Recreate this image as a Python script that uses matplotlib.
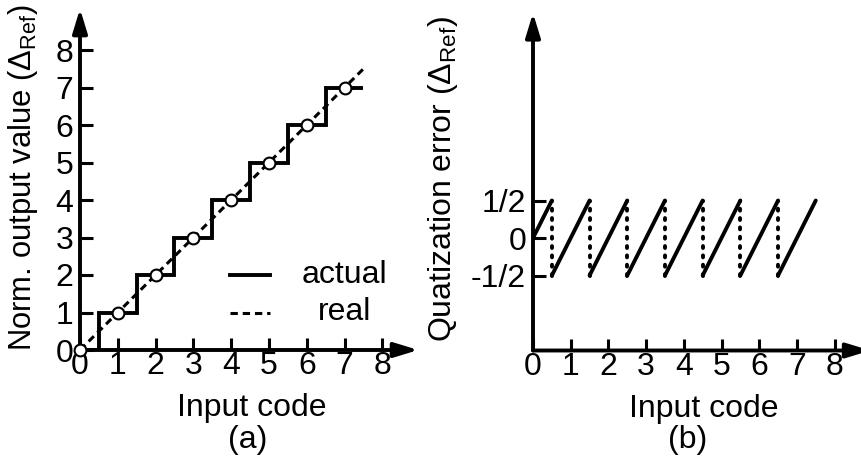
import numpy as np
import matplotlib.pyplot as plt

plt.rcParams['font.family'] = ['Liberation Sans', 'DejaVu Sans']
plt.rcParams['mathtext.fontset'] = 'custom'
plt.rcParams['mathtext.rm'] = 'Liberation Sans'
plt.rcParams['mathtext.it'] = 'Liberation Sans:italic'

# (a) transfer characteristic
codes = [0, 1, 2, 3, 4, 5, 6, 7]
step_edges = [0, 0.5, 1.5, 2.5, 3.5, 4.5, 5.5, 6.5, 7.5]
step_levels = [0, 1, 2, 3, 4, 5, 6, 7]
ideal_x = [0, 7.5]
ideal_y = [0, 7.5]

# (b) quantization error, one ramp per code
ramp_x0 = [0, 0.5, 1.5, 2.5, 3.5, 4.5, 5.5, 6.5]
ramp_y0 = [0, -0.5, -0.5, -0.5, -0.5, -0.5, -0.5, -0.5]
ramp_x1 = [0.5, 1.5, 2.5, 3.5, 4.5, 5.5, 6.5, 7.5]
ramp_y1 = [0.5, 0.5, 0.5, 0.5, 0.5, 0.5, 0.5, 0.5]
jump_x = [0.5, 1.5, 2.5, 3.5, 4.5, 5.5, 6.5]

xticks = [0, 1, 2, 3, 4, 5, 6, 7, 8]
yticks_a = [0, 1, 2, 3, 4, 5, 6, 7, 8]
yticks_b = [-0.5, 0, 0.5]
yticklabels_b = ['-1/2', '0', '1/2']

W, H = 862, 466
FS = 23
LW = 2.8

fig = plt.figure(figsize=(W / 100, H / 100), dpi=100)


def add_axes_px(x0, y0, ux, uy, xlim, ylim):
    # x0, y0: pixel position of the data origin (top-left image coords)
    left = x0 + xlim[0] * ux
    right = x0 + xlim[1] * ux
    bottom = y0 - ylim[0] * uy
    top = y0 - ylim[1] * uy
    ax = fig.add_axes([left / W, 1 - bottom / H, (right - left) / W, (bottom - top) / H])
    ax.set_xlim(*xlim)
    ax.set_ylim(*ylim)
    for s in ax.spines.values():
        s.set_visible(False)
    ax.tick_params(direction='in', length=9, width=2.2, labelsize=FS, pad=1)
    ax.tick_params(axis='y', pad=5)
    return ax


def draw_arrows(ax, xo, yo, xtip, ytip):
    style = '-|>,head_length=0.72,head_width=0.22'
    for tip in [(xtip, yo), (xo, ytip)]:
        ax.annotate('', xy=tip, xytext=(xo, yo),
                    arrowprops=dict(arrowstyle=style, lw=LW, color='k',
                                    mutation_scale=20, shrinkA=0, shrinkB=0),
                    annotation_clip=False)


ylab = 'Norm. output value ($\\mathit{\\Delta}_{\\mathrm{Ref}}$)'
ylab_b = 'Quatization error ($\\mathit{\\Delta}_{\\mathrm{Ref}}$)'
dash = (0, (2.4, 1.6))

# ---- panel (a)
ax1 = add_axes_px(80, 350, 37.8, 37.5, (0, 9.2), (0, 9.3))
draw_arrows(ax1, 0, 0, 8.95, 9.1)
ax1.stairs(step_levels, step_edges, color='k', lw=LW, baseline=None, zorder=3)
ax1.plot(ideal_x, ideal_y, color='k', lw=2.2, ls=dash, zorder=3)
ax1.plot(codes, codes, ls='none', marker='o', ms=8.5, mfc='white', mec='k',
         mew=1.5, zorder=4, clip_on=False)
ax1.set_xticks(xticks)
ax1.set_yticks(yticks_a)
ax1.set_xlabel('Input code', fontsize=FS)
ax1.xaxis.set_label_coords((252 - 80) / (9.2 * 37.8), -(408 - 350) / (9.3 * 37.5))
ax1.xaxis.label.set_va('center')
ax1.set_ylabel(ylab, fontsize=22.3)
ax1.yaxis.set_label_coords(-(80 - 23) / (9.2 * 37.8), (350 - 178) / (9.3 * 37.5))
ax1.yaxis.label.set_va('center')
fig.text(248 / W, 1 - 440 / H, '(a)', fontsize=FS, ha='center', va='center')

# legend drawn inside the data area
ax1.plot([3.97, 5.03], [2, 2], color='k', lw=LW)
ax1.plot([3.97, 5.03], [1, 1], color='k', lw=2.2, ls=dash)
ax1.text(7.0, 2, 'actual', fontsize=FS, ha='center', va='center')
ax1.text(7.0, 1, 'real', fontsize=FS, ha='center', va='center')

# ---- panel (b)
ax2 = add_axes_px(533, 238, 37.7, 75, (0, 8.73), (-1.5, 3.1))
draw_arrows(ax2, 0, -1.5, 8.95, 3.0)
for xa, ya, xb, yb in zip(ramp_x0, ramp_y0, ramp_x1, ramp_y1):
    ax2.plot([xa, xb], [ya, yb], color='k', lw=LW, solid_capstyle='round', zorder=3)
ax2.vlines(jump_x, -0.5, 0.5, color='k', lw=2.8, linestyles=[(0, (0.5, 1.9))],
           capstyle='round', zorder=3)
ax2.set_xticks(xticks)
ax2.set_yticks(yticks_b)
ax2.set_yticklabels(yticklabels_b)
ax2.set_xlabel('Input code', fontsize=FS)
ax2.xaxis.set_label_coords((704 - 533) / (8.73 * 37.7), -(408 - 350) / (4.6 * 75))
ax2.xaxis.label.set_va('center')
ax2.set_ylabel(ylab_b, fontsize=FS)
ax2.yaxis.set_label_coords(-(533 - 443) / (8.73 * 37.7), (350 - 178) / (4.6 * 75))
ax2.yaxis.label.set_va('center')
fig.text(688 / W, 1 - 440 / H, '(b)', fontsize=FS, ha='center', va='center')

fig.savefig('out.png', dpi=100)
